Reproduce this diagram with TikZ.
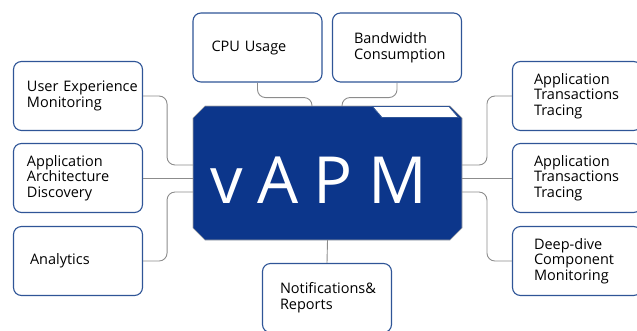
\documentclass[tikz,border=0pt]{standalone}
\usepackage{fontspec}
\setmainfont{Open Sans}
\usetikzlibrary{calc}
\definecolor{vapmblue}{HTML}{0C368B}
\definecolor{edgeblue}{HTML}{2F5597}
\definecolor{linkgray}{HTML}{8C8C8C}
\hyphenpenalty=10000
\exhyphenpenalty=10000
\tikzset{
	feat/.style={draw=edgeblue, line width=1.1pt, fill=white, rounded corners=8pt,
		minimum width=129pt, minimum height=69pt, inner xsep=0pt, align=left,
		text width=#1, font=\fontsize{14.5}{15.7}\selectfont},
	link/.style={draw=linkgray, line width=0.9pt, rounded corners=8pt}
}
\def\spc{\hspace{15pt}}

\begin{document}
\begin{tikzpicture}[x=1pt, y=-1pt]
			%%%%% START %%%%%
			\useasboundingbox (0, 0) rectangle (637, 330);
			
			\draw[fill=vapmblue, draw=gray!70, line width=0.6pt] (205, 106) -- (450, 106) -- (462, 118) -- (462, 228) -- (450, 240) -- (205, 240) -- (193, 228) -- (193, 118) -- cycle;
			\draw[fill=white, draw=edgeblue, line width=0.8pt] (372.5, 106.5) -- (449, 106.5) -- (458.5, 117.5) -- (382, 117.5) -- cycle;
			\node[minimum width=269pt, minimum height=134pt, inner sep=0pt, text=white, font=\fontsize{65}{70}\selectfont, text height=61pt, text depth=0pt] (vapm) at (327.5, 173) {v\spc A\spc P\spc M\kern18pt};
			
			\node[feat=92pt] (cpu) at (257.5, 47.5) {CPU Usage};
			\node[feat=86pt] (bw) at (397, 47.5) {Bandwidth\\Consumption};
			
			\node[feat=102pt] (uem) at (78, 96) {User~Experience\\Monitoring};
			\node[feat=102pt] (aad) at (78, 178) {Application\\Architecture\\Discovery};
			\node[feat=96pt] (ana) at (78, 261) {Analytics};
			
			\node[feat=86pt] (att1) at (577, 96) {Application\\Transactions\\Tracing};
			\node[feat=86pt] (att2) at (577, 178) {Application\\Transactions\\Tracing};
			\node[feat=86pt] (deep) at (577, 261) {Deep-dive\\Component\\Monitoring};
			
			\node[feat=94pt] (notif) at (327, 298) {Notifications\&\\Reports};
			
			\draw[link] (uem.east) -- ++(24, 0) |- ($(vapm.west)+(0, -8)$);
			\draw[link] (aad.east) -- (aad.east -| vapm.west);
			\draw[link] (ana.east) -- ++(24, 0) |- ($(vapm.west)+(0, 19)$);
			
			\draw[link] (att1.west) -- ++(-25, 0) |- ($(vapm.east)+(0, -8)$);
			\draw[link] (att2.west) -- (att2.west -| vapm.east);
			\draw[link] (deep.west) -- ++(-25, 0) |- ($(vapm.east)+(0, 19)$);
			
			\draw[link] (cpu.south) -- ++(0, 15) -| ($(vapm.north)+(-15.5, 0)$);
			\draw[link] (bw.south) -- ++(0, 15) -| ($(vapm.north)+(14.5, 0)$);
			
			\draw[link] (vapm.south) -- (notif.north);
			%%%%% END %%%%%
\end{tikzpicture}
\end{document}
